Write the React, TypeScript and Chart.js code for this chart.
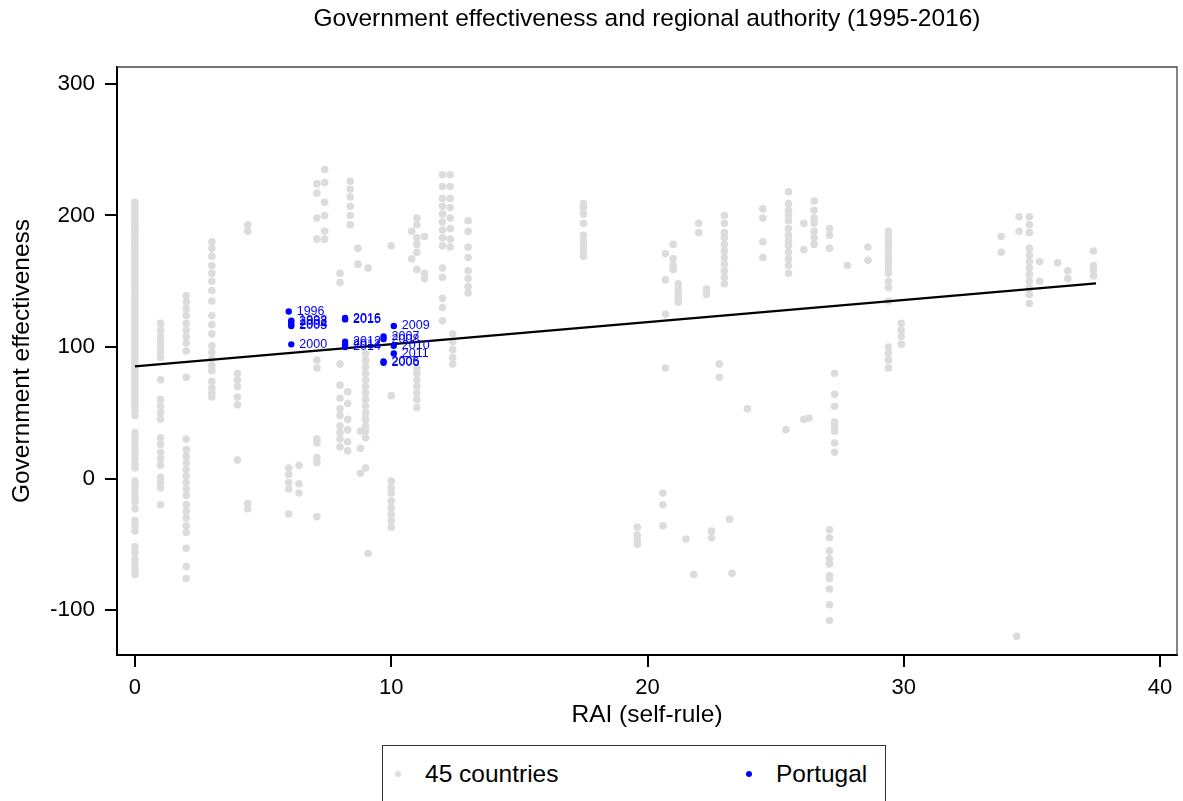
import React, { useEffect, useRef } from "react";
import { Chart, registerables } from "chart.js";

Chart.register(...registerables);

const FONT = "'Liberation Sans', Arial, sans-serif";

const chartTitle = "Government effectiveness and regional authority (1995-2016)";
const xAxisTitle = "RAI (self-rule)";
const yAxisTitle = "Government effectiveness";
const xTickValues = [0, 10, 20, 30, 40];
const yTickValues = [-100, 0, 100, 200, 300];
const legendLabels = ["45 countries", "Portugal"];

// Comparison countries, grouped by self-rule score: [RAI, effectiveness values]
const otherCountries: [number, number[]][] = [
  [0, [210, 207, 204, 201, 198, 195, 192, 190, 187, 184, 181, 178, 175, 172, 169, 166, 163, 160, 157, 154, 151, 148, 145, 142, 139, 136, 133, 130, 127, 124, 121, 118, 115, 112, 109, 106, 103, 100, 97, 94, 91, 88, 85, 82, 79, 76, 73, 70, 67, 64, 61, 58, 55, 52, 48, 35, 31, 27, 23, 19, 15, 11, 8, -2, -6, -10, -14, -18, -23, -32, -36, -40, -52, -56, -61, -65, -69, -73]],
  [1.0, [118, 113, 108, 104, 100, 96, 92, 75, 60, 55, 50, 45, 31, 26, 20, 15, 10, 1, -3, -7, -20]],
  [2.0, [139, 134, 129, 124, 118, 113, 108, 103, 97, 77, 30, 22, 17, 12, 7, 2, -3, -8, -13, -20, -25, -30, -36, -41, -53, -67, -76]],
  [3.0, [180, 175, 169, 162, 156, 150, 143, 135, 124, 117, 110, 101, 96, 91, 86, 82, 74, 69, 65, 62]],
  [4.0, [80, 75, 70, 62, 56, 14]],
  [4.4, [193, 188, -19, -23]],
  [6.0, [8, 3, -3, -8, -27]],
  [6.4, [10, -4, -11]],
  [7.1, [224, 217, 198, 182, 90, 84, 30, 27, 16, 12, -29]],
  [7.4, [235, 225, 210, 200, 188, 182]],
  [8.0, [156, 149, 87, 71, 61, 53, 48, 40, 35, 30, 24]],
  [8.3, [66, 57, 45, 37, 28, 21]],
  [8.4, [226, 220, 214, 207, 200, 193]],
  [8.7, [175, 163]],
  [8.8, [36, 23, 4]],
  [9.0, [95, 90, 85, 80, 75, 70, 65, 60, 55, 50, 45, 40, 36, 31, 8]],
  [9.1, [160, -57]],
  [10.0, [177, 63, -2, -7, -11, -17, -22, -27, -32, -37]],
  [10.8, [188, 167]],
  [11.0, [198, 193, 183, 178, 172, 159, 84, 80, 75, 70, 65, 60, 54]],
  [11.3, [184, 156, 152]],
  [12.0, [231, 222, 213, 207, 201, 195, 189, 183, 177, 160, 153, 137, 130, 120]],
  [12.3, [231, 222, 213, 206, 198, 190, 182, 176]],
  [12.4, [110, 104, 98, 92, 87]],
  [13.0, [196, 188, 176, 168, 158, 152, 146, 141]],
  [17.5, [209, 206, 201, 194, 185, 181, 177, 173, 169]],
  [19.6, [-37, -43, -47, -50]],
  [20.6, [-11, -20, -36]],
  [20.7, [171, 151, 125, 84]],
  [21.0, [178, 167, 162, 159]],
  [21.2, [148, 144, 140, 137, 134]],
  [21.5, [-46]],
  [21.8, [-73]],
  [22.0, [194, 187]],
  [22.3, [144, 140]],
  [22.5, [-40, -45]],
  [22.8, [87, 77]],
  [23.0, [200, 194, 187, 183, 178, 173, 168, 163, 158, 153, 148]],
  [23.2, [-31]],
  [23.3, [-72]],
  [23.9, [53]],
  [24.5, [205, 198, 180, 168]],
  [25.4, [37]],
  [25.5, [218, 209, 204, 200, 196, 190, 185, 181, 177, 172, 167, 162, 156]],
  [26.1, [194, 174, 45]],
  [26.3, [46]],
  [26.5, [211, 204, 198, 194, 188, 183, 178]],
  [27.1, [190, 185, 175, -39, -45, -55, -61, -65, -74, -76, -84, -96, -108]],
  [27.3, [80, 64, 55, 43, 40, 36, 27, 20]],
  [27.8, [162]],
  [28.6, [176, 166]],
  [29.4, [188, 184, 180, 176, 172, 168, 164, 160, 156, 150, 145, 135, 100, 95, 90, 84]],
  [29.9, [118, 113, 108, 102]],
  [33.8, [184, 172]],
  [34.4, [-120]],
  [34.5, [199, 188]],
  [34.9, [199, 193, 187, 175, 170, 165, 160, 155, 150, 145, 140, 133]],
  [35.3, [165, 150]],
  [36.0, [164]],
  [36.4, [158, 152]],
  [37.4, [173, 162, 158, 154]],
];

// Portugal, one point per survey year
const portugalYears = [1996, 1998, 2000, 2002, 2003, 2004, 2005, 2006, 2007, 2008, 2009, 2010, 2011, 2012, 2013, 2014, 2015, 2016];
const portugalRai = [6.0, 6.1, 6.1, 6.1, 6.1, 6.1, 9.7, 9.7, 9.7, 9.7, 10.1, 10.1, 10.1, 8.2, 8.2, 8.2, 8.2, 8.2];
const portugalGe = [127, 120, 102, 119, 116, 117, 89, 88, 108, 106, 116, 101, 95, 104, 102, 100, 121, 122];

// Linear fit across all countries
const fitRai = [0, 37.5];
const fitGe = [85.2, 148.3];

const GREY = "#dcdcdc";
const BLUE = "#0000ff";

const yearLabelPlugin = {
  id: "yearLabels",
  afterDatasetsDraw(chart: any) {
    const meta = chart.getDatasetMeta(0);
    const ctx = chart.ctx;
    ctx.save();
    ctx.font = `12.5px ${FONT}`;
    ctx.fillStyle = BLUE;
    ctx.textBaseline = "middle";
    ctx.textAlign = "left";
    meta.data.forEach((pt: any, i: number) => {
      ctx.fillText(String(portugalYears[i]), pt.x + 8, pt.y);
    });
    ctx.restore();
  },
};

const framePlugin = {
  id: "plotFrame",
  afterDraw(chart: any) {
    const { ctx, chartArea } = chart;
    ctx.save();
    ctx.strokeStyle = "#444";
    ctx.lineWidth = 1.3;
    ctx.beginPath();
    ctx.moveTo(chartArea.left, chartArea.top);
    ctx.lineTo(chartArea.right, chartArea.top);
    ctx.lineTo(chartArea.right, chartArea.bottom);
    ctx.stroke();
    ctx.restore();
  },
};

export default function App() {
  const canvasRef = useRef<HTMLCanvasElement | null>(null);

  useEffect(() => {
    const canvas = canvasRef.current;
    if (!canvas) return;

    const otherPoints = otherCountries.flatMap(([rai, values]) => values.map((v) => ({ x: rai, y: v })));
    const portugalPoints = portugalRai.map((r, i) => ({ x: r, y: portugalGe[i] }));
    const fitPoints = fitRai.map((r, i) => ({ x: r, y: fitGe[i] }));

    const chart = new Chart(canvas, {
      type: "scatter",
      data: {
        datasets: [
          {
            label: legendLabels[1],
            data: portugalPoints,
            backgroundColor: BLUE,
            borderColor: BLUE,
            pointRadius: 3.2,
            borderWidth: 0,
            order: 0,
          },
          {
            type: "line",
            label: "Fit",
            data: fitPoints,
            borderColor: "#000",
            borderWidth: 2.3,
            pointRadius: 0,
            fill: false,
            order: 1,
          } as any,
          {
            label: legendLabels[0],
            data: otherPoints,
            backgroundColor: GREY,
            borderColor: GREY,
            pointRadius: 3.8,
            borderWidth: 0,
            order: 2,
          },
        ],
      },
      options: {
        animation: false,
        responsive: false,
        maintainAspectRatio: false,
        events: [],
        layout: { padding: { top: 0, left: 0, right: 6, bottom: 71.3 } },
        plugins: {
          legend: { display: false },
          tooltip: { enabled: false },
          title: {
            display: true,
            text: chartTitle,
            fullSize: false,
            color: "#000",
            font: { family: FONT, size: 24.5, weight: "normal" },
            padding: { top: 4.3, bottom: 33.3 },
          },
        },
        scales: {
          x: {
            type: "linear",
            min: -0.7,
            max: 40.66,
            afterBuildTicks: (scale: any) => {
              scale.ticks = xTickValues.map((v) => ({ value: v }));
            },
            afterFit: (scale: any) => {
              scale.height = 74.7;
            },
            ticks: { color: "#000", padding: 8, font: { family: FONT, size: 22 } },
            grid: { drawOnChartArea: false, drawTicks: true, tickLength: 12, color: "#000", lineWidth: 2 },
            border: { display: true, color: "#000", width: 2 },
            title: { display: true, text: xAxisTitle, color: "#000", font: { family: FONT, size: 24.5 }, padding: { top: 0, bottom: 0 } },
          },
          y: {
            type: "linear",
            min: -134.2,
            max: 312.9,
            afterBuildTicks: (scale: any) => {
              scale.ticks = yTickValues.map((v) => ({ value: v }));
            },
            afterFit: (scale: any) => {
              scale.width = 117;
            },
            ticks: { color: "#000", padding: 10, font: { family: FONT, size: 22.5 } },
            grid: { drawOnChartArea: false, drawTicks: true, tickLength: 12, color: "#000", lineWidth: 2 },
            border: { display: true, color: "#000", width: 2 },
            title: { display: true, text: yAxisTitle, color: "#000", font: { family: FONT, size: 24.5 }, padding: { top: 7.3, bottom: 0 } },
          },
        },
      },
      plugins: [yearLabelPlugin, framePlugin],
    } as any);

    return () => chart.destroy();
  }, []);

  const legendItem = (color: string, size: number, text: string, dotLeft: number, textLeft: number) => (
    <>
      <span
        style={{
          position: "absolute",
          left: dotLeft - size / 2,
          top: 28 - size / 2,
          width: size,
          height: size,
          borderRadius: "50%",
          background: color,
        }}
      />
      <span
        style={{
          position: "absolute",
          left: textLeft,
          top: 28,
          transform: "translateY(-50%)",
          fontFamily: FONT,
          fontSize: 24.5,
          color: "#000",
          whiteSpace: "nowrap",
          lineHeight: 1,
        }}
      >
        {text}
      </span>
    </>
  );

  return (
    <div style={{ position: "absolute", left: 0, top: 0, width: 1183, height: 801, overflow: "hidden", background: "#fff" }}>
      <canvas ref={canvasRef} width={1183} height={801} style={{ display: "block" }} />
      <div
        style={{
          position: "absolute",
          left: 382,
          top: 745,
          width: 504,
          height: 70,
          border: "1.5px solid #333",
          boxSizing: "border-box",
          background: "#fff",
        }}
      >
        {legendItem(GREY, 6, legendLabels[0], 15, 42)}
        {legendItem(BLUE, 6, legendLabels[1], 366, 393)}
      </div>
    </div>
  );
}
